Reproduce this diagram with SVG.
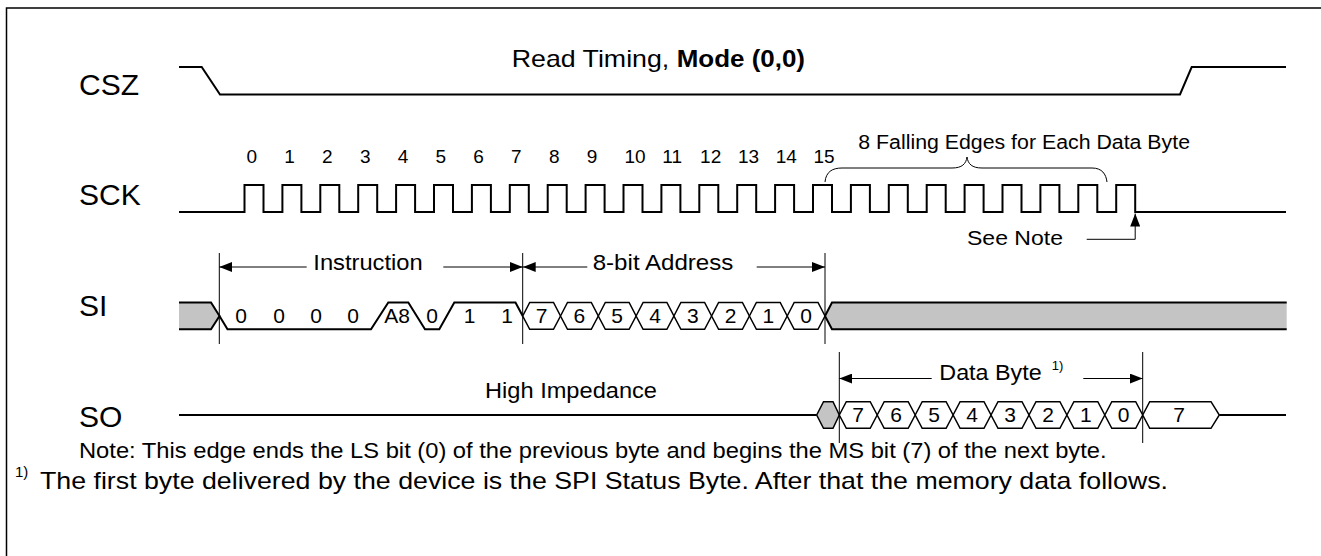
<svg xmlns="http://www.w3.org/2000/svg" width="1321" height="556" viewBox="0 0 1321 556">
<style>
text{font-family:"Liberation Sans",Arial,Helvetica,sans-serif;fill:#000}
.lbl{font-size:30px}
.num{font-size:19px}
.bit{font-size:21px;text-anchor:middle}
.sig{fill:none;stroke:#000;stroke-width:2;stroke-linejoin:miter}
.hex{fill:#fff;stroke:#000;stroke-width:1.5}
.grey{fill:#c4c4c4;stroke:none}
.thin{fill:none;stroke:#000;stroke-width:1}
.arr{fill:none;stroke:#000;stroke-width:1;marker-end:url(#ah)}
</style>
<defs>
<marker id="ah" viewBox="0 0 13 10" refX="13" refY="5" markerWidth="13" markerHeight="10" markerUnits="userSpaceOnUse" orient="auto">
<path d="M0,0 L13,5 L0,10 Z" fill="#000"/>
</marker>
</defs>
<rect x="6.5" y="8" width="1330" height="570" fill="none" stroke="#000" stroke-width="1.5"/>

<g id="title">
<text x="511.7" y="66.5" font-size="24" textLength="157.6" lengthAdjust="spacingAndGlyphs">Read Timing,</text>
<text x="676.7" y="66.5" font-size="24" font-weight="bold" textLength="128.3" lengthAdjust="spacingAndGlyphs">Mode (0,0)</text>
</g>

<g id="labels">
<text class="lbl" x="79" y="94.5">CSZ</text>
<text class="lbl" x="79" y="205">SCK</text>
<text class="lbl" x="79" y="316">SI</text>
<text class="lbl" x="79" y="427">SO</text>
</g>

<g id="csz">
<path class="sig" d="M179,67 H201.7 L220,94.5 H1180 L1191.7,67 H1286"/>
</g>

<g id="sck">
<path class="sig" d="M179,212 H244.5 v-27h19v27h18.9 v-27h19v27h18.9 v-27h19v27h18.9 v-27h19v27h18.9 v-27h19v27h18.9 v-27h19v27h18.9 v-27h19v27h18.9 v-27h19v27h18.9 v-27h19v27h18.9 v-27h19v27h18.9 v-27h19v27h18.9 v-27h19v27h18.9 v-27h19v27h18.9 v-27h19v27h18.9 v-27h19v27h18.9 v-27h19v27h18.9 v-27h19v27h18.9 v-27h19v27h18.9 v-27h19v27h18.9 v-27h19v27h18.9 v-27h19v27h18.9 v-27h19v27h18.9 v-27h19v27h18.9 v-27h19v27 H1286"/>
<g id="clock-numbers">
<text class="num" x="246.5" y="163">0</text>
<text class="num" x="284.3" y="163">1</text>
<text class="num" x="322.1" y="163">2</text>
<text class="num" x="359.9" y="163">3</text>
<text class="num" x="397.7" y="163">4</text>
<text class="num" x="435.5" y="163">5</text>
<text class="num" x="473.3" y="163">6</text>
<text class="num" x="511.1" y="163">7</text>
<text class="num" x="548.9" y="163">8</text>
<text class="num" x="586.7" y="163">9</text>
<text class="num" x="624.5" y="163">10</text>
<text class="num" x="662.3" y="163">11</text>
<text class="num" x="700.1" y="163">12</text>
<text class="num" x="737.9" y="163">13</text>
<text class="num" x="775.7" y="163">14</text>
<text class="num" x="813.5" y="163">15</text>
</g>
</g>

<g id="brace">
<path class="thin" stroke-width="1.3" d="M825,182 C826,172 832,168 842,168 H952 C962,168 966,164 967,157 C968,164 972,168 982,168 H1092 C1102,168 1106,174 1107,182"/>
<text x="858.3" y="148.5" font-size="20" textLength="331.7" lengthAdjust="spacingAndGlyphs">8 Falling Edges for Each Data Byte</text>
</g>

<g id="see-note">
<text x="967" y="245" font-size="21" textLength="96" lengthAdjust="spacingAndGlyphs">See Note</text>
</g>

<g id="si">
<path class="grey" d="M179,302.5 H211 L219.5,316 L211,329.3 H179 Z"/>
<path class="sig" d="M179,302.5 H211 L219.5,316 L211,329.3 H179"/>
<path class="sig" stroke-width="1.5" d="M219.5,316 L227.5,329.3 H371 L388.3,302.5 H408.3 L425,329.3 H439.3 L454.3,302.5 H515.5 L522.7,316"/>
<g class="hexes">
<path class="hex" d="M522.7,316 L529.7,302.5 H553.5 L560.5,316 L553.5,329.3 H529.7 Z"/>
<path class="hex" d="M560.5,316 L567.5,302.5 H591.3 L598.3,316 L591.3,329.3 H567.5 Z"/>
<path class="hex" d="M598.3,316 L605.3,302.5 H629.1 L636.1,316 L629.1,329.3 H605.3 Z"/>
<path class="hex" d="M636.1,316 L643.1,302.5 H666.9 L673.9,316 L666.9,329.3 H643.1 Z"/>
<path class="hex" d="M673.9,316 L680.9,302.5 H704.6 L711.6,316 L704.6,329.3 H680.9 Z"/>
<path class="hex" d="M711.6,316 L718.6,302.5 H742.4 L749.4,316 L742.4,329.3 H718.6 Z"/>
<path class="hex" d="M749.4,316 L756.4,302.5 H780.2 L787.2,316 L780.2,329.3 H756.4 Z"/>
<path class="hex" d="M787.2,316 L794.2,302.5 H818 L825,316 L818,329.3 H794.2 Z"/>
</g>
<path class="grey" d="M825,316 L832,302.5 H1286.7 V329.3 H832 Z"/>
<path class="sig" d="M1286.7,302.5 H832 L825,316 L832,329.3 H1286.7"/>
<text class="bit" x="241" y="323">0</text>
<text class="bit" x="279" y="323">0</text>
<text class="bit" x="316" y="323">0</text>
<text class="bit" x="353" y="323">0</text>
<text class="bit" x="397" y="323">A8</text>
<text class="bit" x="432" y="323">0</text>
<text class="bit" x="469.5" y="323">1</text>
<text class="bit" x="507" y="323">1</text>
<text class="bit" x="541.6" y="323">7</text>
<text class="bit" x="579.4" y="323">6</text>
<text class="bit" x="617.2" y="323">5</text>
<text class="bit" x="655" y="323">4</text>
<text class="bit" x="692.8" y="323">3</text>
<text class="bit" x="730.5" y="323">2</text>
<text class="bit" x="768.3" y="323">1</text>
<text class="bit" x="806.1" y="323">0</text>
</g>

<g id="so">
<path class="sig" d="M179,415 H816.7"/>
<path class="hex" style="fill:#c4c4c4" d="M816.7,415 L823.5,401.7 H833 L839.3,415 L833,428.3 H823.5 Z"/>
<path class="hex" d="M839.3,415 L846.3,401.7 H870.2 L877.2,415 L870.2,428.3 H846.3 Z"/>
<path class="hex" d="M877.2,415 L884.2,401.7 H908.2 L915.2,415 L908.2,428.3 H884.2 Z"/>
<path class="hex" d="M915.2,415 L922.2,401.7 H946.1 L953.1,415 L946.1,428.3 H922.2 Z"/>
<path class="hex" d="M953.1,415 L960.1,401.7 H984 L991,415 L984,428.3 H960.1 Z"/>
<path class="hex" d="M991,415 L998,401.7 H1022 L1029,415 L1022,428.3 H998 Z"/>
<path class="hex" d="M1029,415 L1036,401.7 H1059.9 L1066.9,415 L1059.9,428.3 H1036 Z"/>
<path class="hex" d="M1066.9,415 L1073.9,401.7 H1097.8 L1104.8,415 L1097.8,428.3 H1073.9 Z"/>
<path class="hex" d="M1104.8,415 L1111.8,401.7 H1135.7 L1142.7,415 L1135.7,428.3 H1111.8 Z"/>
<path class="hex" d="M1142.7,415 L1149.7,401.7 H1211 L1219.3,415 L1211,428.3 H1149.7 Z"/>
<path class="sig" d="M1219.3,415 H1286"/>
<text class="bit" x="858.2" y="422">7</text>
<text class="bit" x="896.2" y="422">6</text>
<text class="bit" x="934.1" y="422">5</text>
<text class="bit" x="972" y="422">4</text>
<text class="bit" x="1010" y="422">3</text>
<text class="bit" x="1048" y="422">2</text>
<text class="bit" x="1085.8" y="422">1</text>
<text class="bit" x="1123.7" y="422">0</text>
<text class="bit" x="1179" y="422">7</text>
<text x="485" y="398" font-size="22" textLength="172" lengthAdjust="spacingAndGlyphs">High Impedance</text>
</g>

<g id="connectors">
<path class="thin" d="M219.3,253 V344 M522.7,253 V344 M825,253 V344 M839.3,352 V443 M1142.7,352 V443"/>
<path class="arr" d="M306.7,267 H219.3"/>
<path class="arr" d="M443.3,267 H522.7"/>
<path class="arr" d="M587.3,267 H522.7"/>
<path class="arr" d="M756.7,267 H825"/>
<path class="arr" d="M931.7,378.5 H839.3"/>
<path class="arr" d="M1083.3,378.5 H1142.7"/>
<path class="arr" d="M1086.7,239.3 H1135.2 V213.5"/>
</g>

<g id="annotations">
<text x="313.3" y="270" font-size="22" textLength="109.4" lengthAdjust="spacingAndGlyphs">Instruction</text>
<text x="592.7" y="270" font-size="22" textLength="140.7" lengthAdjust="spacingAndGlyphs">8-bit Address</text>
<text x="939.3" y="380" font-size="22" textLength="102.4" lengthAdjust="spacingAndGlyphs">Data Byte</text>
<text x="1051.7" y="370" font-size="13">1)</text>
</g>

<g id="notes">
<text x="79" y="458" font-size="22" textLength="1027.6" lengthAdjust="spacingAndGlyphs">Note: This edge ends the LS bit (0) of the previous byte and begins the MS bit (7) of the next byte.</text>
<text x="15" y="477" font-size="15">1)</text>
<text x="40" y="489" font-size="24" textLength="1128" lengthAdjust="spacingAndGlyphs">The first byte delivered by the device is the SPI Status Byte. After that the memory data follows.</text>
</g>
</svg>
